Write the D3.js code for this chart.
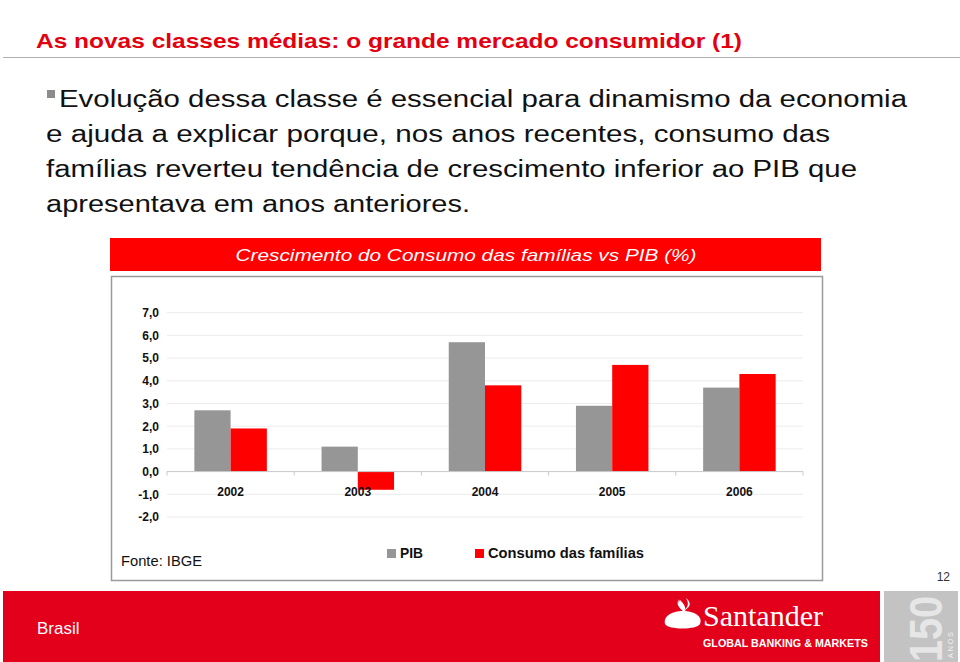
<!DOCTYPE html>
<html>
<head>
<meta charset="utf-8">
<script src="https://cdn.jsdelivr.net/npm/d3@7"></script>
<style>
  html, body { margin: 0; padding: 0; background: #ffffff; }
  svg { display: block; font-family: "Liberation Sans", Arial, sans-serif; }
</style>
</head>
<body>
<svg id="chart" width="960" height="662"></svg>
<script>
// ---- data ----
const years = ["2002", "2003", "2004", "2005", "2006"];
const seriesNames = ["PIB", "Consumo das famílias"];
const pib = [2.7, 1.1, 5.7, 2.9, 3.7];
const consumo = [1.9, -0.8, 3.8, 4.7, 4.3];
const yTicks = [-2, -1, 0, 1, 2, 3, 4, 5, 6, 7];
const bodyLines = [
  "Evolução dessa classe é essencial para dinamismo da economia",
  "e  ajuda a explicar porque, nos anos recentes, consumo das",
  "famílias reverteu tendência de crescimento inferior ao PIB que",
  "apresentava em anos anteriores."
];

const svg = d3.select("#chart");
const colors = { "PIB": "#969696", "Consumo das famílias": "#ff0000" };

// ---- page title ----
svg.append("text").attr("x", 36).attr("y", 48)
  .attr("font-size", 21).attr("font-weight", "bold").attr("fill", "#e3000f")
  .attr("textLength", 706).attr("lengthAdjust", "spacingAndGlyphs")
  .text("As novas classes médias: o grande mercado consumidor (1)");
svg.append("line").attr("x1", 3).attr("x2", 960).attr("y1", 57.5).attr("y2", 57.5)
  .attr("stroke", "#b0b0b0").attr("stroke-width", 1.2);

// ---- body text ----
svg.append("rect").attr("x", 47).attr("y", 90).attr("width", 8).attr("height", 8).attr("fill", "#8c8c8c");
const lineX = [59, 46, 46, 46];
const lineW = [848, 784, 811, 424];
bodyLines.forEach((t, i) => {
  svg.append("text").attr("x", lineX[i]).attr("y", 107 + i * 35)
    .attr("font-size", 23).attr("fill", "#111")
    .attr("textLength", lineW[i]).attr("lengthAdjust", "spacingAndGlyphs")
    .text(t);
});

// ---- chart title bar ----
svg.append("rect").attr("x", 110).attr("y", 238).attr("width", 711).attr("height", 33).attr("fill", "#ff0000");
svg.append("text").attr("x", 466).attr("y", 261).attr("text-anchor", "middle")
  .attr("font-size", 17).attr("font-style", "italic").attr("fill", "#fff")
  .attr("textLength", 461).attr("lengthAdjust", "spacingAndGlyphs")
  .text("Crescimento do Consumo das famílias vs PIB (%)");

// ---- chart box ----
svg.append("rect").attr("x", 111.5).attr("y", 276.5).attr("width", 711).attr("height", 304)
  .attr("fill", "#fff").attr("stroke", "#9a9a9a").attr("stroke-width", 1.5);

// ---- scales ----
const x0 = d3.scaleBand().domain(years).range([167, 803]).paddingInner(0.43).paddingOuter(0.215);
const x1 = d3.scaleBand().domain(seriesNames).range([0, x0.bandwidth()]);
const y = d3.scaleLinear().domain([-2, 7]).range([517, 312.7]);

// gridlines
svg.append("g").selectAll("line").data(yTicks.filter(d => d !== 0)).join("line")
  .attr("x1", 167).attr("x2", 803)
  .attr("y1", d => y(d)).attr("y2", d => y(d))
  .attr("stroke", "#ececec").attr("stroke-width", 1);

// y axis labels
const yAxis = d3.axisLeft(y).tickValues(yTicks).tickSize(0).tickPadding(0)
  .tickFormat(d => d.toFixed(1).replace(".", ","));
const gy = svg.append("g").attr("transform", "translate(159,0)").call(yAxis);
gy.select(".domain").remove();
gy.selectAll("text").attr("font-size", 12).attr("font-weight", "bold").attr("fill", "#111")
  .attr("font-family", "Liberation Sans, Arial, sans-serif");

// bars
const rows = years.map((yr, i) => ({ year: yr, values: [
  { key: "PIB", v: pib[i] }, { key: "Consumo das famílias", v: consumo[i] } ] }));
const groups = svg.append("g").selectAll("g").data(rows).join("g")
  .attr("transform", d => `translate(${x0(d.year)},0)`);
groups.selectAll("rect").data(d => d.values).join("rect")
  .attr("x", d => x1(d.key)).attr("width", x1.bandwidth())
  .attr("y", d => y(Math.max(0, d.v)))
  .attr("height", d => Math.abs(y(d.v) - y(0)))
  .attr("fill", d => colors[d.key]);

// zero axis with category boundary ticks
svg.append("line").attr("x1", 167).attr("x2", 803).attr("y1", y(0)).attr("y2", y(0))
  .attr("stroke", "#c8c8c8").attr("stroke-width", 1);
const bounds = years.map(yr => x0(yr) - x0.step() * x0.paddingOuter()).concat([803]);
svg.append("g").selectAll("line").data(bounds).join("line")
  .attr("x1", d => d).attr("x2", d => d).attr("y1", y(0)).attr("y2", y(0) + 4)
  .attr("stroke", "#c8c8c8");

// category labels
svg.append("g").selectAll("text").data(years).join("text")
  .attr("x", d => x0(d) + x0.bandwidth() / 2).attr("y", 496)
  .attr("text-anchor", "middle").attr("font-size", 12).attr("font-weight", "bold").attr("fill", "#111")
  .text(d => d);

// legend
const legX = [387, 475];
const legW = [23, 156];
seriesNames.forEach((s, i) => {
  svg.append("rect").attr("x", legX[i]).attr("y", 549).attr("width", 9).attr("height", 9).attr("fill", colors[s]);
  svg.append("text").attr("x", legX[i] + 13).attr("y", 558)
    .attr("font-size", 14).attr("font-weight", "bold").attr("fill", "#111")
    .attr("textLength", legW[i]).attr("lengthAdjust", "spacingAndGlyphs").text(s);
});
svg.append("text").attr("x", 121).attr("y", 566).attr("font-size", 14).attr("fill", "#111")
  .attr("textLength", 81).attr("lengthAdjust", "spacingAndGlyphs").text("Fonte: IBGE");

// page number
svg.append("text").attr("x", 950).attr("y", 581).attr("text-anchor", "end")
  .attr("font-size", 12).attr("fill", "#333").text("12");

// ---- footer ----
svg.append("rect").attr("x", 3).attr("y", 591).attr("width", 877).attr("height", 71).attr("fill", "#e2001a");
svg.append("text").attr("x", 37).attr("y", 634).attr("font-size", 17).attr("fill", "#fff").text("Brasil");

// Santander flame logo
const lg = svg.append("g").attr("fill", "#fff");
lg.append("path").attr("d", "M665,624 C663,616 672,611 683,611 C694,611 703,616 700,624 C697,630 668,630 665,624 Z");
lg.append("path").attr("d", "M680,600 C676,604 681,608 684,612 C687,608 684,604 680,600 Z M683,611 C690,606 688,602 686,598 C691,602 692,607 683,611 Z");
lg.append("path").attr("d", "M683,611 C678,607 676,603 679,599 C677,604 681,607 686,611 Z");
svg.append("text").attr("x", 703).attr("y", 626).attr("font-size", 29)
  .attr("font-family", "Liberation Serif, DejaVu Serif, serif").attr("fill", "#fff")
  .attr("textLength", 120).attr("lengthAdjust", "spacingAndGlyphs").text("Santander");
svg.append("text").attr("x", 703).attr("y", 647).attr("font-size", 11).attr("font-weight", "bold").attr("fill", "#fff")
  .attr("textLength", 165).attr("lengthAdjust", "spacingAndGlyphs").text("GLOBAL BANKING & MARKETS");

// 150 anos block
svg.append("rect").attr("x", 884).attr("y", 591).attr("width", 74).attr("height", 71).attr("fill", "#c3c3c3");
svg.append("text").attr("transform", "translate(942,662) rotate(-90)")
  .attr("font-size", 46).attr("font-weight", "bold").attr("fill", "#e6e6e6")
  .attr("textLength", 66).attr("lengthAdjust", "spacingAndGlyphs").text("150");
svg.append("text").attr("transform", "translate(953,658) rotate(-90)")
  .attr("font-size", 7).attr("fill", "#f2f2f2").attr("letter-spacing", 2).text("ANOS");
</script>
</body>
</html>
